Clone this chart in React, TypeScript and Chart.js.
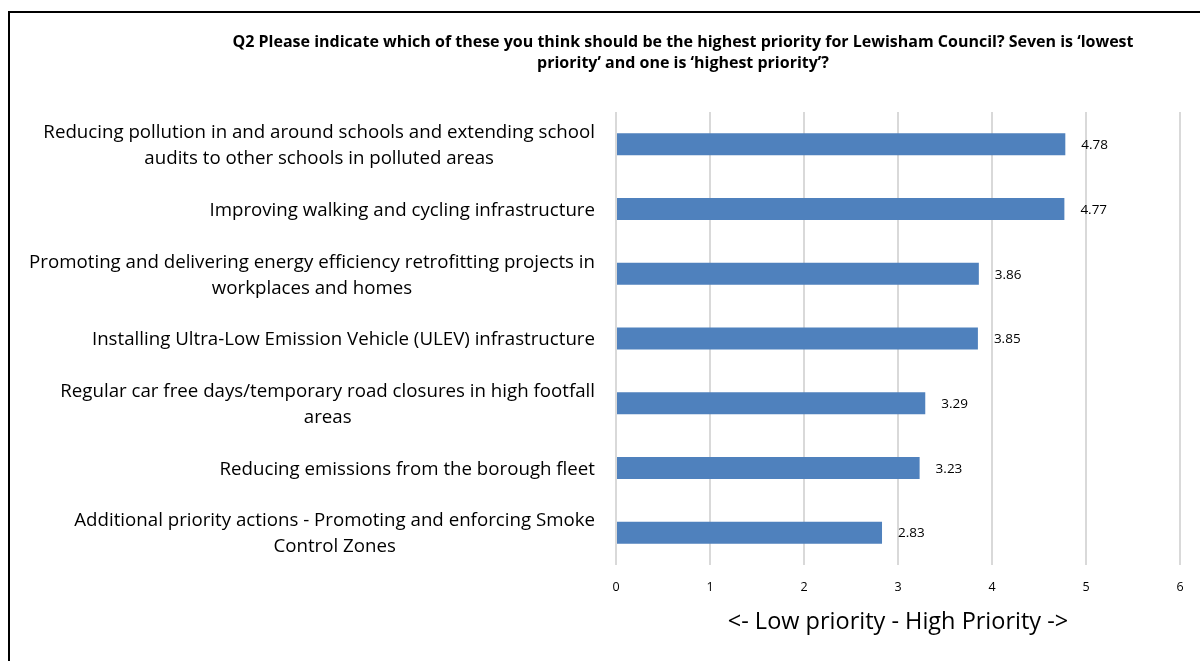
import React, { useEffect, useRef } from "react";
import { Chart, registerables } from "chart.js";

Chart.register(...registerables);

const categories: string[][] = [
  ["Reducing pollution in and around schools and extending school", "audits to other schools in polluted areas"],
  ["Improving walking and cycling infrastructure"],
  ["Promoting and delivering energy efficiency retrofitting projects in", "workplaces and homes"],
  ["Installing Ultra-Low Emission Vehicle (ULEV) infrastructure"],
  ["Regular car free days/temporary road closures in high footfall", "areas"],
  ["Reducing emissions from the borough fleet"],
  ["Additional priority actions - Promoting and enforcing Smoke", "Control Zones"],
];
const values: number[] = [4.78, 4.77, 3.86, 3.85, 3.29, 3.23, 2.83];
const xTicks: number[] = [0, 1, 2, 3, 4, 5, 6];
const titleLines: string[] = [
  "Q2 Please indicate which of these you think should be the highest priority for Lewisham Council? Seven is \u2018lowest",
  "priority\u2019 and one is \u2018highest priority\u2019?",
];
const xAxisTitle = "<- Low priority - High Priority ->";

const FONT = "'Open Sans', sans-serif";

const textPlugin = {
  id: "customText",
  afterDraw(chart: any) {
    const ctx = chart.ctx as CanvasRenderingContext2D;
    const area = chart.chartArea;
    ctx.save();
    // frame lines
    ctx.fillStyle = "#000";
    ctx.fillRect(8, 11, 2, 661);
    ctx.fillRect(8, 11, 1192, 2);

    // title
    ctx.font = `bold 16px ${FONT}`;
    ctx.fillStyle = "#000";
    ctx.textAlign = "center";
    ctx.textBaseline = "middle";
    titleLines.forEach((t, i) => ctx.fillText(t, 683, 42 + i * 21));

    // y labels
    const yScale = chart.scales.y;
    ctx.font = `18.7px ${FONT}`;
    ctx.fillStyle = "#000";
    categories.forEach((lines, i) => {
      const cy = yScale.getPixelForValue(i);
      let widest = 0;
      lines.forEach((l) => (widest = Math.max(widest, ctx.measureText(l).width)));
      const cx = 595 - widest / 2;
      const lh = 26;
      const start = cy + 1.5 - ((lines.length - 1) * lh) / 2;
      lines.forEach((l, j) => ctx.fillText(l, cx, start + j * lh));
    });

    // data labels
    const meta = chart.getDatasetMeta(0);
    ctx.font = `13.5px ${FONT}`;
    ctx.textAlign = "left";
    meta.data.forEach((el: any, i: number) => {
      ctx.fillText(values[i].toFixed(2), el.x + 16, el.y + 1);
    });

    // x axis title
    ctx.font = `23.5px ${FONT}`;
    ctx.textAlign = "center";
    ctx.fillText(xAxisTitle, (area.left + area.right) / 2, 622);
    ctx.restore();
  },
};

export default function App() {
  const ref = useRef<HTMLCanvasElement>(null);
  useEffect(() => {
    if (!ref.current) return;
    const chart = new Chart(ref.current, {
      type: "bar",
      data: {
        labels: categories.map((c) => c.join(" ")),
        datasets: [
          {
            data: values,
            backgroundColor: "#4F81BD",
            borderWidth: 0,
            barPercentage: 0.34,
            categoryPercentage: 1,
          },
        ],
      },
      options: {
        indexAxis: "y",
        responsive: false,
        animation: false,
        layout: { padding: { left: 616, right: 20, top: 112, bottom: 0 } },
        plugins: {
          legend: { display: false },
          title: { display: false },
          tooltip: { enabled: false },
        },
        scales: {
          x: {
            min: 0,
            max: 6,
            afterBuildTicks: (s: any) => {
              s.ticks = xTicks.map((v) => ({ value: v }));
            },
            afterFit: (s: any) => {
              s.height = 96;
            },
            grid: { color: "#D9D9D9", lineWidth: 2, drawTicks: false },
            border: { display: false },
            ticks: {
              padding: 15,
              color: "#000",
              font: { family: FONT, size: 12.5 },
            },
          },
          y: {
            afterFit: (s: any) => {
              s.width = 0;
            },
            grid: { display: false, drawTicks: false },
            border: { display: false },
            ticks: { display: false },
          },
        },
      },
      plugins: [textPlugin],
    });
    return () => chart.destroy();
  }, []);
  return (
    <div style={{ position: "absolute", left: 0, top: 0, width: 1200, height: 661, background: "#fff" }}>
      <canvas ref={ref} width={1200} height={661} style={{ display: "block" }} />
    </div>
  );
}
